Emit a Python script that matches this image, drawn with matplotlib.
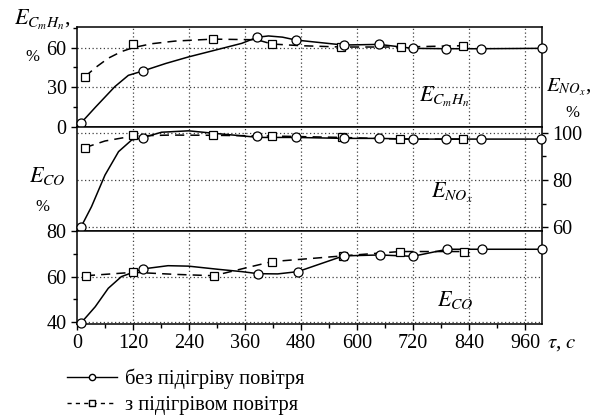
import numpy as np
import matplotlib
matplotlib.use('Agg')
import matplotlib.pyplot as plt
from matplotlib.lines import Line2D
from matplotlib.ticker import MultipleLocator

plt.rcParams['font.family'] = ['Liberation Serif', 'DejaVu Serif']
plt.rcParams['mathtext.fontset'] = 'stix'

# ---- E_CmHn (top panel) ----
chn_line_t = [9, 40, 81, 110, 141, 190, 239, 300, 353, 386, 410, 440, 469, 571, 647, 719, 791, 865, 995]
chn_line_v = [3, 15, 30.4, 39, 42.3, 48, 53, 58.5, 63.3, 67.9, 68.9, 68, 65.8, 62, 62.5, 59.5, 59.2, 59.2, 59.5]
chn_pts_t = [9, 141, 386, 469, 571, 647, 719, 791, 865, 995]
chn_pts_v = [3, 42.3, 67.9, 65.8, 62, 62.5, 59.5, 59.2, 59.2, 59.5]
chn_h_line_t = [17, 40, 67, 95, 120, 160, 210, 291, 386, 417, 480, 566, 693, 826]
chn_h_line_v = [38, 45, 52, 57, 60, 63, 65, 66.5, 66, 62.8, 61.5, 60.5, 60.5, 61.5]
chn_h_pts_t = [17, 120, 291, 417, 566, 693, 826]
chn_h_pts_v = [38, 62.8, 66.8, 62.8, 60.5, 60.5, 61.5]

# ---- E_NOx (middle panel, right axis) ----
nox_line_t = [9, 31, 60, 89, 117, 141, 181, 239, 296, 390, 469, 571, 647, 719, 790, 866, 994]
nox_line_v = [60.3, 68.7, 82.1, 92, 96.9, 97.9, 100.2, 100.8, 99.7, 98.0, 98, 97.6, 97.6, 97.3, 97.3, 97.3, 97.3]
nox_pts_t = [9, 142, 386, 469, 571, 647, 719, 790, 866, 994]
nox_pts_v = [60.3, 97.9, 98.5, 98, 97.6, 97.6, 97.3, 97.3, 97.3, 97.3]
nox_h_line_t = [17, 60, 120, 200, 291, 417, 567, 692, 826]
nox_h_line_v = [93.7, 96.5, 98.6, 99.0, 98.9, 98.6, 98.0, 97.3, 97.3]
nox_h_pts_t = [17, 120, 291, 417, 567, 692, 826]
nox_h_pts_v = [93.7, 98.9, 98.9, 98.6, 98.0, 97.3, 97.3]

# ---- E_CO (bottom panel) ----
co_line_t = [9, 39, 67, 95, 120, 142, 195, 239, 303, 353, 388, 430, 473, 571, 649, 719, 793, 867, 995]
co_line_v = [39.8, 46.8, 54.9, 60, 61.9, 63.4, 64.8, 64.6, 63.2, 62.2, 61.3, 61.2, 62.2, 69.1, 69.5, 68.9, 72, 72, 72]
co_pts_t = [9, 142, 388, 473, 571, 649, 719, 793, 867, 995]
co_pts_v = [39.8, 63.4, 61.3, 62.2, 69.1, 69.5, 68.9, 72, 72, 72]
co_h_line_t = [19, 121, 210, 293, 355, 418, 510, 569, 692, 828]
co_h_line_v = [60.4, 61.9, 61, 60.4, 63.5, 66.6, 68.1, 69.1, 71, 71]
co_h_pts_t = [19, 121, 293, 418, 569, 692, 828]
co_h_pts_v = [60.4, 61.9, 60.4, 66.6, 69.1, 71, 71]

x_ticks = [0, 120, 240, 360, 480, 600, 720, 840, 960]

W, H = 594, 419
fig = plt.figure(figsize=(W / 100, H / 100), dpi=100)


def fx(px):
    return px / W


def fy(py):
    return 1 - py / H


left, right = 77, 542
ax1 = fig.add_axes([fx(left), fy(126.7), (right - left) / W, (126.7 - 27) / H])
ax2 = fig.add_axes([fx(left), fy(231), (right - left) / W, (231 - 126.7) / H])
ax3 = fig.add_axes([fx(left), fy(324), (right - left) / W, (324 - 231) / H])

grid_kw = dict(color='0.25', linestyle=(0, (1, 2)), linewidth=0.9)
solid_kw = dict(color='black', linestyle='-', linewidth=1.1)
dash_kw = dict(color='black', linestyle=(0, (6, 4)), linewidth=1.1)
circ_kw = dict(linestyle='none', marker='o', markersize=6.5, markerfacecolor='white',
               markeredgecolor='black', markeredgewidth=0.9, clip_on=False, zorder=5)
sq_kw = dict(linestyle='none', marker='s', markersize=5.2, markerfacecolor='white',
             markeredgecolor='black', markeredgewidth=0.9, clip_on=False, zorder=5)

panels = [
    (ax1, chn_line_t, chn_line_v, chn_pts_t, chn_pts_v, chn_h_line_t, chn_h_line_v, chn_h_pts_t, chn_h_pts_v),
    (ax2, nox_line_t, nox_line_v, nox_pts_t, nox_pts_v, nox_h_line_t, nox_h_line_v, nox_h_pts_t, nox_h_pts_v),
    (ax3, co_line_t, co_line_v, co_pts_t, co_pts_v, co_h_line_t, co_h_line_v, co_h_pts_t, co_h_pts_v),
]
for ax, lt, lv, pt, pv, hlt, hlv, hpt, hpv in panels:
    ax.plot(hlt, hlv, **dash_kw)
    ax.plot(lt, lv, **solid_kw)
    ax.plot(hpt, hpv, **sq_kw)
    ax.plot(pt, pv, **circ_kw)
    ax.set_xlim(0, 996)
    ax.set_xticks(x_ticks)
    ax.xaxis.set_minor_locator(MultipleLocator(60))
    for x in x_ticks[1:]:
        ax.axvline(x, zorder=0, **grid_kw)
    for s in ax.spines.values():
        s.set_linewidth(1.1)
    ax.tick_params(which='both', direction='out', labelsize=14.5, width=1.0)
    ax.tick_params(which='major', length=4)
    ax.tick_params(which='minor', length=3)

ax1.set_ylim(0, 75.7)
ax1.set_yticks([0, 30, 60])
ax1.yaxis.set_minor_locator(MultipleLocator(15))
for y in [30, 60]:
    ax1.axhline(y, zorder=0, **grid_kw)

ax2.set_ylim(58.44, 102.54)
ax2.yaxis.tick_right()
ax2.set_yticks([60, 80, 100])
ax2.yaxis.set_minor_locator(MultipleLocator(10))
for y in [60, 80, 100]:
    ax2.axhline(y, zorder=0, **grid_kw)

ax3.set_ylim(39.25, 80)
ax3.set_yticks([40, 60, 80])
ax3.yaxis.set_minor_locator(MultipleLocator(10))
for y in [40, 60]:
    ax3.axhline(y, zorder=0, **grid_kw)

for ax in (ax1, ax2):
    ax.tick_params(axis='x', which='both', bottom=False, labelbottom=False)

# axis labels as free text
fig.text(fx(43), fy(20), r'$E_{C_mH_n}$,', fontsize=16, ha='center', va='center')
fig.text(fx(32), fy(57), '%', fontsize=12, ha='center', va='center')
fig.text(fx(47), fy(176), r'$E_{CO}$', fontsize=16, ha='center', va='center')
fig.text(fx(42), fy(207), '%', fontsize=12, ha='center', va='center')
fig.text(fx(569), fy(87), r'$E_{NO_x}$,', fontsize=15, ha='center', va='center')
fig.text(fx(572), fy(113), '%', fontsize=12, ha='center', va='center')

fig.text(fx(444), fy(97), r'$E_{C_mH_n}$', fontsize=16, ha='center', va='center')
fig.text(fx(452), fy(193), r'$E_{NO_x}$', fontsize=16, ha='center', va='center')
fig.text(fx(455), fy(300), r'$E_{CO}$', fontsize=16, ha='center', va='center')
fig.text(fx(562), fy(343), r'$\tau$, $c$', fontsize=15, ha='center', va='center')

handles = [
    Line2D([], [], color='black', linestyle='-', linewidth=1.0, marker='o', markersize=4.5,
           markerfacecolor='white', markeredgecolor='black'),
    Line2D([], [], color='black', linestyle=(0, (3, 3)), linewidth=1.0, marker='s', markersize=4,
           markerfacecolor='white', markeredgecolor='black'),
]
labels = ['без підігріву повітря', 'з підігрівом повітря']
fig.legend(handles, labels, loc='upper left', bbox_to_anchor=(fx(59), fy(360)), frameon=False,
           fontsize=14.8, handlelength=2.4, handletextpad=0.4, labelspacing=0.35, borderaxespad=0)

fig.savefig('out.png', dpi=100)
